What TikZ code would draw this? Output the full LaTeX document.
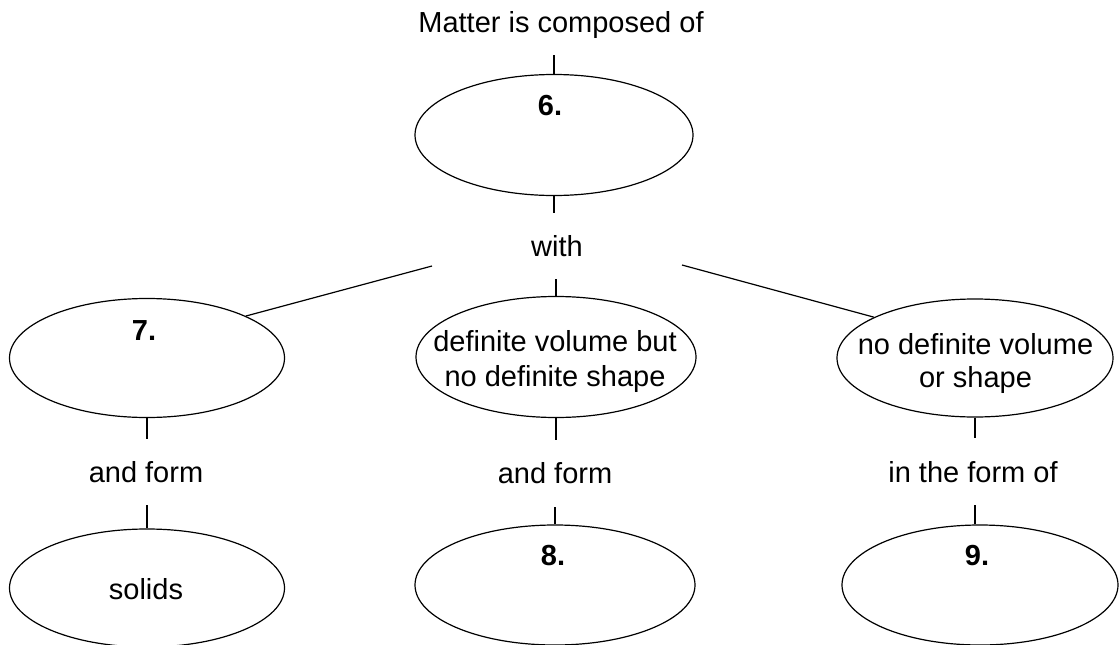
\documentclass[tikz,border=0pt]{standalone}
\usepackage{fontspec}
\setmainfont{Liberation Sans}
\usetikzlibrary{shapes.geometric}
\tikzset{
  oval/.style={draw, ellipse, inner sep=0pt, line width=1.2pt},
  lbl/.style={inner sep=0pt, anchor=base, text height=21pt, text depth=6pt,
    font=\fontsize{29}{35}\selectfont},
  num/.style={inner sep=0pt, anchor=base, font=\fontsize{29}{35}\selectfont\bfseries},
  conn/.style={line width=1.2pt},
  down/.style={conn, shorten <=17pt, shorten >=22pt}
}
\begin{document}
\begin{tikzpicture}[x=1pt, y=-1pt]
\useasboundingbox (0,0) rectangle (1119,645);
\clip (0,0) rectangle (1119,645);
\fill[white] (0,0) rectangle (1119,645);

% ellipses
\node[oval, minimum width=278pt, minimum height=121pt] (e6) at (554,135) {};
\node[oval, minimum width=275pt, minimum height=119pt] (e7) at (147,358) {};
\node[oval, minimum width=280pt, minimum height=121pt] (em) at (556,357) {};
\node[oval, minimum width=276pt, minimum height=118pt] (er) at (975,358) {};
\node[oval, minimum width=275pt, minimum height=118pt] (es) at (147,588) {};
\node[oval, minimum width=280pt, minimum height=120pt] (e8) at (555,585) {};
\node[oval, minimum width=276pt, minimum height=120pt] (e9) at (980,585) {};

% texts
\node[lbl] (m) at (561,32) {Matter is composed of};
\node[num] (t6) at (550,115) {6.};
\node[lbl] (with) at (557,256) {with};
\node[num] (t7) at (144,340) {7.};
\node[lbl] (mt1) at (555,351) {definite volume but};
\node[lbl] (mt2) at (555,386) {no definite shape};
\node[lbl] (rt1) at (975.5,354) {no definite volume};
\node[lbl] (rt2) at (975.5,387) {or shape};
\node[lbl] (af1) at (146,482) {and form};
\node[lbl] (af2) at (555,483) {and form};
\node[lbl] (iff) at (973,482) {in the form of};
\node[lbl] (sol) at (146,599) {solids};
\node[num] (t8) at (553,565) {8.};
\node[num] (t9) at (977,565) {9.};

% connectors
\draw[conn, shorten <=17pt] (m.south -| e6.north) -- (e6.north);
\draw[conn, shorten >=22pt] (e6.south) -- (e6.south |- with.north);
\draw[conn, shorten <=17pt] (with.south -| em.north) -- (em.north);
\coordinate (wl) at (432,266);
\coordinate (wr) at (682,265);
\draw[conn] (wl) -- (e7.23);
\draw[conn] (wr) -- (er.158);
\draw[conn, shorten >=22pt] (e7.south) -- (e7.south |- af1.north);
\draw[conn, shorten <=17pt] (af1.south -| es.north) -- (es.north);
\draw[conn, shorten >=22pt] (em.south) -- (em.south |- af2.north);
\draw[conn, shorten <=18pt] (af2.south -| e8.north) -- (e8.north);
\draw[conn, shorten >=23pt] (er.south) -- (er.south |- iff.north);
\draw[conn, shorten <=17pt] (iff.south -| er.south) -- (er.south |- e9.north);
\end{tikzpicture}
\end{document}
